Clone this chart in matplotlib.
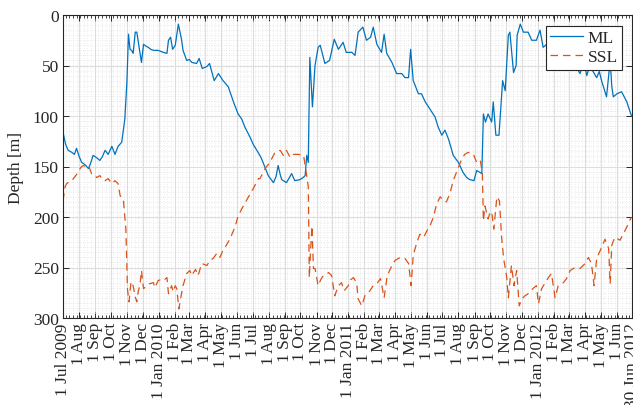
import numpy as np
import matplotlib
matplotlib.use("Agg")
import matplotlib.pyplot as plt
import matplotlib.dates as mdates

start_date = np.datetime64("2009-07-01")
end_date = np.datetime64("2012-06-30")

ml_day = [0, 5, 10, 17, 22, 26, 31, 36, 42, 49, 53, 58, 64, 71, 76, 81, 87, 94, 100, 106, 113, 119, 123, 126, 129, 132, 135, 139, 142, 147, 151, 155, 160, 164, 169, 174, 183, 193, 200, 203, 207, 211, 216, 222, 228, 231, 238, 243, 248, 257, 262, 268, 277, 282, 291, 299, 308, 318, 328, 337, 344, 350, 360, 366, 373, 380, 385, 395, 405, 410, 414, 418, 421, 430, 440, 446, 456, 462, 466, 469, 472, 475, 480, 485, 491, 495, 504, 513, 522, 530, 539, 545, 556, 562, 568, 577, 584, 592, 597, 604, 613, 618, 623, 633, 642, 652, 658, 665, 669, 674, 684, 690, 697, 706, 716, 722, 729, 735, 742, 751, 761, 770, 777, 783, 791, 796, 803, 806, 809, 813, 818, 825, 828, 833, 839, 846, 851, 857, 860, 867, 872, 874, 880, 886, 895, 902, 911, 918, 924, 931, 936, 942, 950, 958, 965, 972, 980, 988, 995, 1002, 1008, 1014, 1019, 1027, 1032, 1037, 1046, 1050, 1053, 1056, 1059, 1066, 1075, 1085, 1094]
ml_depth = [116, 128, 134, 136, 138, 132, 140, 146, 148, 152, 147, 139, 141, 144, 140, 134, 138, 130, 138, 130, 126, 103, 66, 19, 34, 35, 38, 17, 17, 34, 47, 29, 31, 32, 34, 35, 35, 37, 38, 25, 22, 34, 30, 9, 24, 35, 45, 44, 47, 48, 43, 53, 51, 48, 65, 58, 65, 71, 86, 98, 103, 111, 121, 128, 134, 140, 146, 159, 166, 160, 149, 158, 163, 166, 157, 164, 163, 161, 159, 139, 146, 42, 91, 50, 32, 30, 48, 45, 24, 34, 27, 37, 37, 40, 17, 12, 25, 22, 12, 29, 37, 19, 38, 47, 58, 58, 62, 62, 34, 65, 78, 78, 86, 93, 101, 111, 119, 114, 123, 139, 146, 156, 161, 163, 164, 154, 156, 157, 98, 106, 98, 106, 86, 119, 119, 65, 75, 20, 17, 57, 50, 20, 9, 17, 17, 25, 25, 15, 32, 29, 45, 38, 35, 50, 40, 55, 48, 52, 58, 45, 60, 50, 55, 62, 56, 66, 81, 60, 45, 70, 81, 78, 76, 86, 100]

ssl_day = [0, 4, 7, 12, 17, 23, 29, 34, 39, 44, 49, 55, 60, 65, 71, 76, 81, 87, 94, 100, 106, 110, 116, 121, 124, 127, 131, 135, 139, 142, 145, 148, 151, 155, 161, 167, 174, 177, 183, 188, 193, 200, 203, 209, 212, 216, 219, 223, 228, 231, 235, 238, 244, 248, 251, 255, 260, 267, 272, 277, 283, 289, 296, 302, 307, 312, 321, 331, 337, 347, 357, 366, 376, 379, 389, 398, 408, 418, 424, 430, 437, 443, 453, 463, 466, 469, 472, 474, 477, 479, 482, 485, 491, 496, 501, 506, 511, 517, 523, 530, 536, 541, 549, 554, 559, 565, 568, 575, 581, 588, 597, 604, 611, 618, 624, 633, 639, 649, 658, 665, 670, 674, 681, 687, 694, 700, 706, 713, 719, 726, 732, 738, 745, 751, 760, 767, 773, 780, 790, 796, 803, 807, 809, 812, 818, 822, 825, 829, 835, 840, 844, 848, 854, 857, 863, 868, 873, 878, 883, 889, 895, 904, 911, 915, 921, 928, 934, 940, 947, 953, 963, 969, 976, 985, 995, 1005, 1011, 1017, 1022, 1027, 1034, 1043, 1050, 1053, 1056, 1062, 1072, 1082, 1094]
ssl_depth = [184, 170, 167, 165, 164, 160, 156, 151, 149, 150, 149, 157, 158, 161, 159, 163, 164, 162, 167, 164, 167, 179, 182, 212, 271, 284, 264, 268, 279, 284, 273, 268, 253, 271, 268, 266, 265, 270, 263, 262, 263, 260, 276, 268, 274, 268, 271, 291, 276, 268, 261, 256, 253, 258, 255, 252, 258, 246, 247, 248, 243, 241, 236, 240, 234, 230, 222, 210, 199, 189, 180, 172, 162, 162, 152, 146, 136, 134, 139, 134, 141, 138, 138, 139, 149, 159, 170, 260, 228, 209, 251, 251, 268, 262, 258, 257, 255, 258, 278, 268, 265, 273, 268, 262, 260, 265, 281, 288, 278, 275, 268, 266, 261, 280, 258, 248, 243, 240, 241, 246, 268, 238, 225, 217, 220, 214, 209, 200, 187, 180, 184, 185, 176, 164, 152, 143, 138, 136, 138, 146, 144, 156, 204, 189, 202, 195, 195, 212, 180, 184, 220, 241, 260, 280, 248, 268, 253, 288, 281, 278, 276, 271, 268, 286, 271, 265, 260, 256, 280, 268, 265, 261, 253, 250, 251, 246, 240, 246, 268, 241, 233, 222, 231, 266, 228, 220, 223, 213, 200]

tick_dates = ["2009-07-01", "2009-08-01", "2009-09-01", "2009-10-01", "2009-11-01", "2009-12-01",
              "2010-01-01", "2010-02-01", "2010-03-01", "2010-04-01", "2010-05-01", "2010-06-01",
              "2010-07-01", "2010-08-01", "2010-09-01", "2010-10-01", "2010-11-01", "2010-12-01",
              "2011-01-01", "2011-02-01", "2011-03-01", "2011-04-01", "2011-05-01", "2011-06-01",
              "2011-07-01", "2011-08-01", "2011-09-01", "2011-10-01", "2011-11-01", "2011-12-01",
              "2012-01-01", "2012-02-01", "2012-03-01", "2012-04-01", "2012-05-01", "2012-06-01",
              "2012-06-30"]
tick_labels = ["1 Jul 2009", "1 Aug", "1 Sep", "1 Oct", "1 Nov", "1 Dec",
               "1 Jan 2010", "1 Feb", "1 Mar", "1 Apr", "1 May", "1 Jun",
               "1 Jul", "1 Aug", "1 Sep", "1 Oct", "1 Nov", "1 Dec",
               "1 Jan 2011", "1 Feb", "1 Mar", "1 Apr", "1 May", "1 Jun",
               "1 Jul", "1 Aug", "1 Sep", "1 Oct", "1 Nov", "1 Dec",
               "1 Jan 2012", "1 Feb", "1 Mar", "1 Apr", "1 May", "1 Jun",
               "30 Jun 2012"]

series_names = ["ML", "SSL"]

plt.rcParams['font.family'] = ['Liberation Serif', 'DejaVu Serif']
plt.rcParams['font.size'] = 12.5
txt = '#262626'

fig = plt.figure(figsize=(6.33, 4.06), dpi=100)
ax = fig.add_axes([63/633, 87/406, 569/633, 303/406])

ml_t = start_date + np.array(ml_day).astype('timedelta64[D]')
ssl_t = start_date + np.array(ssl_day).astype('timedelta64[D]')

ax.plot(ml_t, ml_depth, color='#0072BD', lw=0.9, label=series_names[0])
ax.plot(ssl_t, ssl_depth, color='#D95319', lw=0.9, ls=(0, (6, 4)), label=series_names[1])

ax.set_xlim(start_date, end_date)
ax.set_ylim(300, 0)
ax.set_yticks([0, 50, 100, 150, 200, 250, 300])
ax.yaxis.set_minor_locator(matplotlib.ticker.MultipleLocator(5))

tds = [mdates.date2num(np.datetime64(d)) for d in tick_dates]
ax.set_xticks(tds)
ax.set_xticklabels(tick_labels, rotation=90, ha='center', va='top')
ax.xaxis.set_minor_locator(mdates.DayLocator(interval=7))

ax.grid(True, which='major', color='#dedede', lw=0.8)
ax.grid(True, which='minor', color='#d8d8d8', lw=0.5, ls=(0, (1, 2.5)))
ax.set_axisbelow(True)

ax.tick_params(axis='both', which='both', direction='in', colors=txt, labelcolor=txt)
ax.tick_params(axis='x', which='major', length=4, width=0.7, top=True, pad=3)
ax.tick_params(axis='x', which='minor', length=2.5, width=0.6, top=True)
ax.tick_params(axis='y', which='major', length=4, width=0.7, right=True, pad=3)
ax.tick_params(axis='y', which='minor', length=0)
for s in ax.spines.values():
    s.set_color(txt)
    s.set_linewidth(0.8)

ax.set_ylabel('Depth [m]', color=txt, labelpad=6)

leg = ax.legend(loc='upper right', bbox_to_anchor=(622/633, (406-27)/406), bbox_transform=fig.transFigure,
                borderaxespad=0, fancybox=False, framealpha=1, edgecolor=txt,
                handlelength=1.9, handletextpad=0.25, borderpad=0.25, labelspacing=0.15)
leg.get_frame().set_linewidth(0.8)
for t in leg.get_texts():
    t.set_color(txt)

fig.savefig('out.png', dpi=100)
